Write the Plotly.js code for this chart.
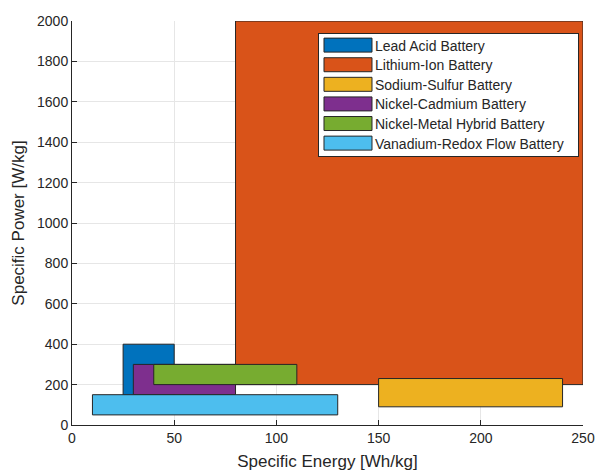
<!DOCTYPE html>
<html>
<head>
<meta charset="utf-8">
<script src="https://cdn.plot.ly/plotly-3.0.1.min.js"></script>
<style>html,body{margin:0;padding:0;background:#fff;}#chart{width:596px;height:473px;}</style>
</head>
<body>
<div id="chart"></div>
<script>
const batteries = ["Lead Acid Battery", "Lithium-Ion Battery", "Sodium-Sulfur Battery", "Nickel-Cadmium Battery", "Nickel-Metal Hybrid Battery", "Vanadium-Redox Flow Battery"];
const energyMin = [25, 80, 150, 30, 40, 10];
const energyMax = [50, 250, 240, 80, 110, 130];
const powerMin = [75, 200, 90, 150, 200, 50];
const powerMax = [400, 2000, 230, 300, 300, 150];
const xTicks = [0, 50, 100, 150, 200, 250];
const yTicks = [0, 200, 400, 600, 800, 1000, 1200, 1400, 1600, 1800, 2000];

const colors = ["#0072BD", "#D95319", "#EDB120", "#7E2F8E", "#77AC30", "#4DBEEE"];

const traces = batteries.map((name, i) => ({
  type: "scatter",
  mode: "lines",
  name: name,
  x: [energyMin[i], energyMax[i], energyMax[i], energyMin[i], energyMin[i]],
  y: [powerMin[i], powerMin[i], powerMax[i], powerMax[i], powerMin[i]],
  fill: "toself",
  fillcolor: colors[i],
  line: {color: "#262626", width: 1},
  hoverinfo: "name"
}));

const FONT = "Liberation Sans, Arial, sans-serif";

const axisCommon = {
  showline: true,
  linecolor: "#262626",
  linewidth: 1,
  ticks: "inside",
  ticklen: 5,
  tickcolor: "#262626",
  tickfont: {family: FONT, size: 14, color: "#262626"},
  showgrid: true,
  gridcolor: "#e6e6e6",
  gridwidth: 1,
  zeroline: false,
  mirror: false
};

const layout = {
  width: 596,
  height: 473,
  margin: {l: 72, r: 13, t: 21, b: 48},
  paper_bgcolor: "#ffffff",
  plot_bgcolor: "#ffffff",
  showlegend: true,
  legend: {
    x: 0.4814, xanchor: "left",
    y: 0.97, yanchor: "top",
    bgcolor: "#ffffff",
    bordercolor: "#262626",
    borderwidth: 1,
    itemwidth: 48,
    font: {family: FONT, size: 14, color: "#262626"},
    tracegroupgap: 0
  },
  xaxis: Object.assign({}, axisCommon, {
    range: [0, 250],
    tickvals: xTicks,
    ticktext: xTicks.map(String),
    title: {text: "Specific Energy [Wh/kg]", font: {family: FONT, size: 17, color: "#262626"}, standoff: 10}
  }),
  yaxis: Object.assign({}, axisCommon, {
    range: [0, 2000],
    tickvals: yTicks,
    ticktext: yTicks.map(String),
    title: {text: "Specific Power [W/kg]", font: {family: FONT, size: 17, color: "#262626"}, standoff: 8}
  })
};

const gd = document.getElementById("chart");
Plotly.newPlot(gd, traces, layout, {displayModeBar: false, staticPlot: true}).then(() => {
  const rowTop = 12, rowGap = 19.6, legendW = 260;
  const items = gd.querySelectorAll(".legend .traces");
  items.forEach((g, i) => {
    const m = /translate\(\s*([-\d.]+)[ ,]+([-\d.]+)\s*\)/.exec(g.getAttribute("transform") || "");
    const tx = m ? parseFloat(m[1]) : 0;
    g.setAttribute("transform", "translate(" + tx + "," + (rowTop + i * rowGap) + ")");
    const fillPath = g.querySelector(".legendfill path");
    if (fillPath) {
      fillPath.setAttribute("d", "M5,-7h48v14h-48z");
      fillPath.style.stroke = "#262626";
      fillPath.style.strokeWidth = "1px";
      fillPath.style.fill = colors[i];
    }
    g.querySelectorAll(".legendlines path").forEach(p => p.style.display = "none");
    const txt = g.querySelector(".legendtext");
    if (txt) txt.setAttribute("x", parseFloat(txt.getAttribute("x")) - 2);
  });
  const bg = gd.querySelector(".legend rect.bg");
  if (bg) {
    bg.setAttribute("height", rowTop + (items.length - 1) * rowGap + 13);
    bg.setAttribute("width", legendW);
  }
});
</script>
</body>
</html>
